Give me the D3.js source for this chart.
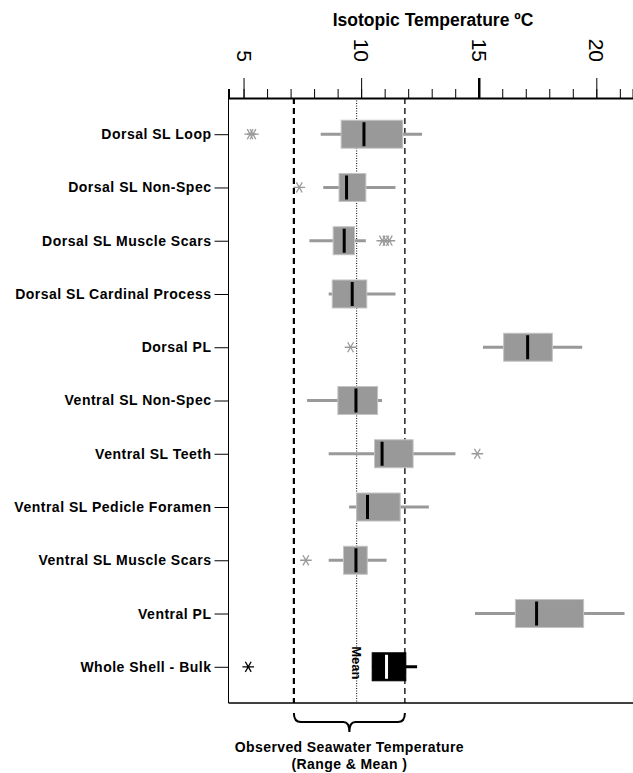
<!DOCTYPE html>
<html>
<head>
<meta charset="utf-8">
<script src="https://cdn.jsdelivr.net/npm/d3@7"></script>
<style>
  html, body { margin: 0; padding: 0; background: #fff; }
  svg { display: block; }
  text { font-family: "Liberation Sans", Arial, sans-serif; }
</style>
</head>
<body>
<svg id="chart" width="633" height="773"></svg>
<script>
// ---- data ----
const categories = [
  "Dorsal SL Loop", "Dorsal SL Non-Spec", "Dorsal SL Muscle Scars",
  "Dorsal SL Cardinal Process", "Dorsal PL", "Ventral SL Non-Spec",
  "Ventral SL Teeth", "Ventral SL Pedicle Foramen", "Ventral SL Muscle Scars",
  "Ventral PL", "Whole Shell - Bulk"
];
const whiskerLow  = [8.28, 8.39, 7.80, 8.62, 15.18, 7.70, 8.62, 9.49, 8.62, 14.84, 10.47];
const q1          = [9.15, 9.06, 8.81, 8.77, 16.06, 9.01, 10.57, 9.81, 9.25, 16.56, 10.47];
const median      = [10.12, 9.38, 9.28, 9.62, 17.08, 9.78, 10.89, 10.27, 9.78, 17.46, 11.08];
const q3          = [11.77, 10.20, 9.72, 10.24, 18.13, 10.70, 12.21, 11.66, 10.26, 19.46, 11.90];
const whiskerHigh = [12.59, 11.46, 10.20, 11.46, 19.40, 10.89, 14.01, 12.88, 11.08, 21.20, 12.38];
const outliers    = [[5.28, 5.40], [7.37], [10.90, 11.05, 11.20], [], [9.55], [], [14.94], [], [7.65], [], [5.20]];
const seawaterRange = [7.14, 11.86];
const seawaterMean = 9.81;
const majorTicks = [5, 10, 15, 20];
const minorTicks = [5, 6, 7, 8, 9, 10, 11, 12, 13, 14, 15, 16, 17, 18, 19, 20, 21];
const xDomain = [4.36, 21.56];

// ---- layout ----
const svg = d3.select("#chart");
const pL = 228.5, pR = 633, pT = 98, pB = 703;
const x = d3.scaleLinear().domain(xDomain).range([pL, pR]);
const y = d3.scalePoint().domain(categories).range([pT, pB]).padding(0.68);
const boxH = 28;
const gray = "#999999";

// seawater lines
const g = svg.append("g");
g.append("line").attr("x1", x(seawaterRange[0])).attr("x2", x(seawaterRange[0]))
  .attr("y1", pT).attr("y2", pB).attr("stroke", "#000").attr("stroke-width", 2.2)
  .attr("stroke-dasharray", "6,4");
g.append("line").attr("x1", x(seawaterRange[1])).attr("x2", x(seawaterRange[1]))
  .attr("y1", pT).attr("y2", pB).attr("stroke", "#000").attr("stroke-width", 1.3)
  .attr("stroke-dasharray", "6,4");
g.append("line").attr("x1", x(seawaterMean)).attr("x2", x(seawaterMean))
  .attr("y1", pT).attr("y2", pB).attr("stroke", "#000").attr("stroke-width", 1)
  .attr("stroke-dasharray", "1,1.5");

// boxes
const rows = categories.map((c, i) => ({c, i, lo: whiskerLow[i], q1: q1[i], med: median[i], q3: q3[i], hi: whiskerHigh[i], out: outliers[i]}));
const last = categories.length - 1;
const rg = svg.append("g").selectAll("g").data(rows).join("g");
rg.append("line")
  .attr("x1", d => x(d.lo)).attr("x2", d => x(d.hi))
  .attr("y1", d => y(d.c)).attr("y2", d => y(d.c))
  .attr("stroke", d => d.i === last ? "#000" : gray).attr("stroke-width", 3);
rg.append("rect")
  .attr("x", d => x(d.q1)).attr("width", d => x(d.q3) - x(d.q1))
  .attr("y", d => y(d.c) - boxH / 2).attr("height", boxH)
  .attr("fill", d => d.i === last ? "#000" : gray)
  .attr("stroke", d => d.i === last ? "#000" : "#c4c4c4").attr("stroke-width", 1);
rg.append("line")
  .attr("x1", d => x(d.med)).attr("x2", d => x(d.med))
  .attr("y1", d => y(d.c) - boxH / 2 + 2).attr("y2", d => y(d.c) + boxH / 2 - 2)
  .attr("stroke", d => d.i === last ? "#fff" : "#000").attr("stroke-width", 3);

// outliers (asterisks)
const ast = d3.symbol().type(d3.symbolAsterisk).size(95);
rg.each(function(d) {
  d3.select(this).selectAll("path.out").data(d.out).join("path")
    .attr("class", "out")
    .attr("d", ast)
    .attr("transform", v => `translate(${x(v)},${y(d.c)}) rotate(90)`)
    .attr("fill", "none")
    .attr("stroke", d.i === last ? "#000" : gray)
    .attr("stroke-width", 1.3);
});

// "Mean" label
svg.append("text")
  .attr("transform", `translate(${x(seawaterMean)},${y(categories[last]) - 4}) rotate(90)`)
  .attr("text-anchor", "middle").attr("dy", "0.35em")
  .attr("font-size", 13).attr("font-weight", "bold").text("Mean");

// frame
svg.append("line").attr("x1", pL).attr("x2", pL).attr("y1", pT).attr("y2", pB)
  .attr("stroke", "#000").attr("stroke-width", 1);
svg.append("line").attr("x1", pL).attr("x2", pR).attr("y1", pB).attr("y2", pB)
  .attr("stroke", "#000").attr("stroke-width", 1.5);

// top axis
const minorAxis = svg.append("g").attr("transform", `translate(0,${pT})`)
  .call(d3.axisTop(x).tickValues(minorTicks).tickSize(9).tickFormat(""));
minorAxis.select(".domain").attr("stroke-width", 2);
minorAxis.selectAll(".tick line").attr("stroke-width", 1);
const majorAxis = svg.append("g").attr("transform", `translate(0,${pT})`)
  .call(d3.axisTop(x).tickValues(majorTicks).tickSize(20));
majorAxis.select(".domain").remove();
majorAxis.selectAll(".tick line").attr("stroke-width", d => d === 15 ? 2.5 : 1);
majorAxis.selectAll(".tick text")
  .attr("y", null).attr("dy", "0.35em")
  .attr("transform", "translate(0,-36) rotate(90)")
  .attr("text-anchor", "end")
  .attr("font-size", 21).attr("font-family", "Liberation Sans, Arial, sans-serif");

// left axis
const yAxis = svg.append("g").attr("transform", `translate(${pL},0)`)
  .call(d3.axisLeft(y).tickSize(14).tickPadding(3));
yAxis.select(".domain").remove();
yAxis.selectAll(".tick text")
  .attr("font-size", 14).attr("font-weight", "bold")
  .attr("letter-spacing", 0.5)
  .attr("font-family", "Liberation Sans, Arial, sans-serif");

// title
svg.append("text").attr("x", 433).attr("y", 26).attr("text-anchor", "middle")
  .attr("font-size", 17.5).attr("font-weight", "bold").text("Isotopic Temperature ºC");

// brace
const bx1 = x(seawaterRange[0]), bx2 = x(seawaterRange[1]), bxm = (bx1 + bx2) / 2;
const by0 = 713, by1 = 722, by2 = 732;
svg.append("path")
  .attr("d", `M${bx1},${by0} Q${bx1},${by1} ${bx1 + 7},${by1} L${bxm - 6},${by1} Q${bxm},${by1} ${bxm},${by2} Q${bxm},${by1} ${bxm + 6},${by1} L${bx2 - 7},${by1} Q${bx2},${by1} ${bx2},${by0}`)
  .attr("fill", "none").attr("stroke", "#000").attr("stroke-width", 2);

svg.append("text").attr("x", bxm).attr("y", 752).attr("text-anchor", "middle")
  .attr("font-size", 14).attr("font-weight", "bold").attr("letter-spacing", 0.4)
  .text("Observed Seawater Temperature");
svg.append("text").attr("x", bxm).attr("y", 769).attr("text-anchor", "middle")
  .attr("font-size", 14).attr("font-weight", "bold").attr("letter-spacing", 0.4)
  .text("(Range & Mean )");
</script>
</body>
</html>
